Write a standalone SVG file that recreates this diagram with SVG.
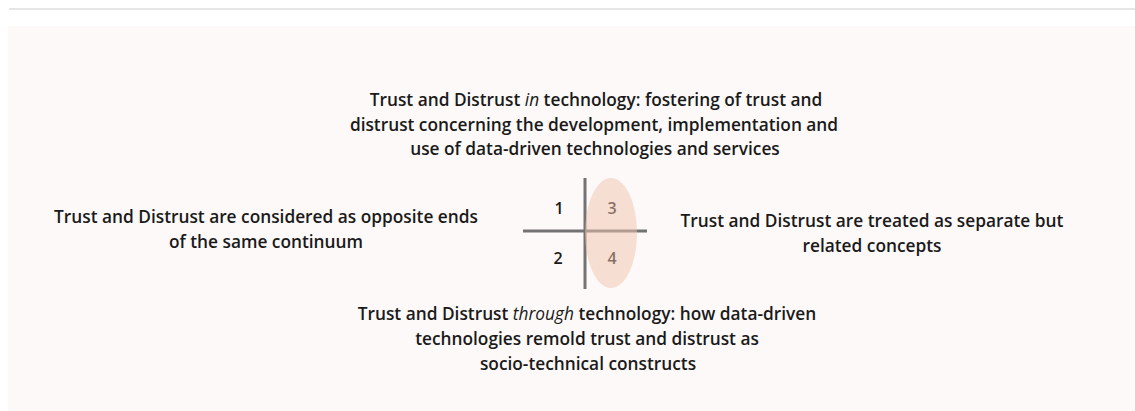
<svg xmlns="http://www.w3.org/2000/svg" width="1135" height="411" viewBox="0 0 1135 411">
<style>
.t{font-family:"Open Sans",Lato,"Liberation Sans",sans-serif;font-weight:600;font-size:17.3px;fill:#1a1a1a;text-anchor:middle}
.i{font-style:italic;font-weight:400}
.n{font-family:"Open Sans",Lato,"Liberation Sans",sans-serif;font-weight:600;font-size:16px;fill:#1a1a1a;text-anchor:middle}
.ax{stroke:#737373;stroke-width:3}
</style>
<rect width="1135" height="411" fill="#ffffff"/>
<rect x="9" y="8" width="1126" height="2" fill="#e6e6e6"/>
<rect x="8" y="26" width="1127" height="385" fill="#fdf9f8"/>
<g id="top">
<text class="t" x="596" y="106">Trust and Distrust <tspan class="i">in</tspan> technology: fostering of trust and</text>
<text class="t" x="594" y="131">distrust concerning the development, implementation and</text>
<text class="t" x="595" y="155">use of data-driven technologies and services</text>
</g>
<g id="left">
<text class="t" x="266" y="223">Trust and Distrust are considered as opposite ends</text>
<text class="t" x="266" y="248">of the same continuum</text>
</g>
<g id="right">
<text class="t" x="872" y="227">Trust and Distrust are treated as separate but</text>
<text class="t" x="872" y="252">related concepts</text>
</g>
<g id="bottom">
<text class="t" x="587" y="320">Trust and Distrust <tspan class="i">through</tspan> technology: how data-driven</text>
<text class="t" x="587" y="345">technologies remold trust and distrust as</text>
<text class="t" x="588" y="370">socio-technical constructs</text>
</g>
<g id="quadrant">
<line class="ax" x1="585" y1="178" x2="585" y2="289"/>
<line class="ax" x1="523" y1="231" x2="647" y2="231"/>
<text class="n" x="559" y="214">1</text>
<text class="n" x="558" y="264">2</text>
<text class="n" x="612" y="214">3</text>
<text class="n" x="612" y="264">4</text>
<ellipse cx="611" cy="233" rx="26" ry="55" fill="#f2c4ae" fill-opacity="0.5"/>
</g>
</svg>
